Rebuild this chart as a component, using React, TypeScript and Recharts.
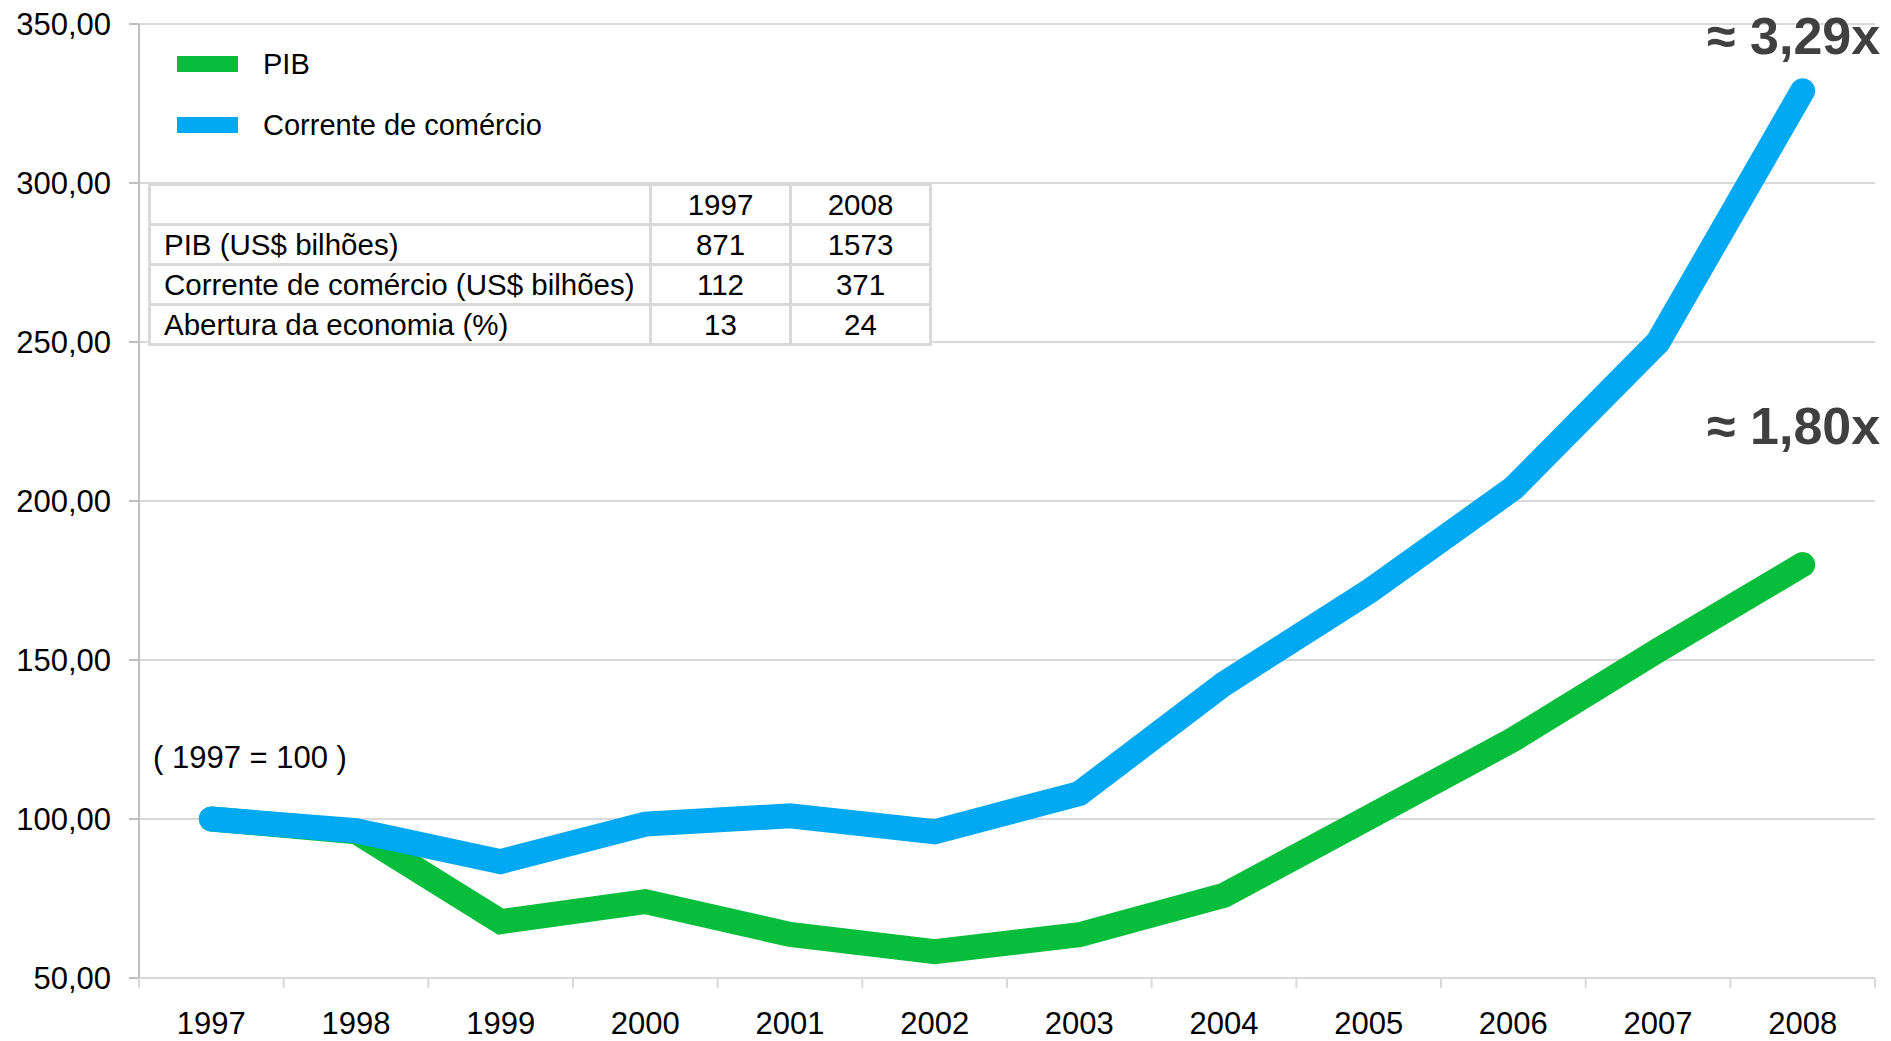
import { LineChart, Line, XAxis, YAxis, CartesianGrid } from 'recharts';

const years = ['1997', '1998', '1999', '2000', '2001', '2002', '2003', '2004', '2005', '2006', '2007', '2008'];
const pib = [100, 96, 67.7, 74, 63.7, 58.3, 63.6, 76, 100.5, 125, 153, 180];
const corrente = [100, 96.3, 86.6, 98.4, 101, 96, 108, 142.5, 171.5, 204, 250, 329];
const yTicks = [50, 100, 150, 200, 250, 300, 350];
const growthLabels = { pib: '≈ 1,80x', corrente: '≈ 3,29x' };

const tableHead = ['', '1997', '2008'];
const tableRows = [
  ['PIB (US$ bilhões)', '871', '1573'],
  ['Corrente de comércio (US$ bilhões)', '112', '371'],
  ['Abertura da economia (%)', '13', '24'],
];

const data = years.map((y, i) => ({ idx: i, year: y, pib: pib[i], corrente: corrente[i] }));
// category boundaries for the little tick marks, labels at the centres
const xTicks: number[] = [];
for (let i = 0; i <= years.length * 2; i++) xTicks.push(i / 2 - 0.5);

const FONT = '"Liberation Sans", Arial, sans-serif';
const GREEN = '#06BE3C';
const BLUE = '#00A9F1';
const GRID = '#d9d9d9';

const XTick = (props: any) => {
  const { x, y, payload } = props;
  const v = payload.value;
  if (Number.isInteger(v)) {
    return (
      <text x={x} y={y + 56} textAnchor="middle" fontSize={31} fontFamily={FONT} fill="#000">
        {years[v]}
      </text>
    );
  }
  return <line x1={x} x2={x} y1={y} y2={y + 10} stroke={GRID} strokeWidth={2} />;
};

const endLabel = (text: string, dy: number) => (props: any) => {
  const { x, y, index } = props;
  if (index !== years.length - 1) return null;
  return (
    <text x={x - 9} y={y - dy} textAnchor="middle" fontSize={52} fontWeight="bold" fontFamily={FONT} fill="#404040">
      {text}
    </text>
  );
};

const cell = (w: number, align: 'left' | 'center'): any => ({
  width: w,
  height: 37,
  border: `3px solid ${GRID}`,
  padding: align === 'left' ? '0 0 0 13px' : 0,
  textAlign: align,
  verticalAlign: 'middle',
  whiteSpace: 'nowrap',
});

const App = () => {
  return (
    <div style={{ position: 'absolute', left: 0, top: 0, width: 1891, height: 1041, background: '#fff' }}>
      <LineChart width={1891} height={1041} data={data} margin={{ top: 24, right: 16, bottom: 3, left: 0 }}>
        <CartesianGrid vertical={false} stroke={GRID} strokeWidth={2} />
        <XAxis
          dataKey="idx"
          type="number"
          domain={[-0.5, years.length - 0.5]}
          ticks={xTicks}
          interval={0}
          tickLine={false}
          tickSize={0}
          tickMargin={0}
          tick={<XTick />}
          axisLine={{ stroke: GRID, strokeWidth: 2 }}
          height={60}
        />
        <YAxis
          domain={[50, 350]}
          ticks={yTicks}
          width={139}
          tickSize={10}
          tickMargin={18}
          tickFormatter={(v: number) => v.toFixed(2).replace('.', ',')}
          tick={{ fontSize: 31, fontFamily: FONT, fill: '#000' }}
          tickLine={{ stroke: '#bfbfbf', strokeWidth: 2 }}
          axisLine={{ stroke: '#bfbfbf', strokeWidth: 2 }}
        />
        <Line
          dataKey="pib"
          name="PIB"
          stroke={GREEN}
          strokeWidth={25}
          strokeLinecap="round"
          strokeLinejoin="miter"
          dot={false}
          activeDot={false}
          isAnimationActive={false}
          label={endLabel(growthLabels.pib, 121)}
        />
        <Line
          dataKey="corrente"
          name="Corrente de comércio"
          stroke={BLUE}
          strokeWidth={25}
          strokeLinecap="round"
          strokeLinejoin="miter"
          dot={false}
          activeDot={false}
          isAnimationActive={false}
          label={endLabel(growthLabels.corrente, 37)}
        />
      </LineChart>

      {/* legend */}
      <div style={{ position: 'absolute', left: 177, top: 49, fontFamily: FONT, fontSize: 29, color: '#000' }}>
        <div style={{ display: 'flex', alignItems: 'center', height: 30 }}>
          <span style={{ width: 61, height: 16, background: GREEN, display: 'inline-block', marginRight: 25 }} />
          PIB
        </div>
        <div style={{ display: 'flex', alignItems: 'center', height: 30, marginTop: 31 }}>
          <span style={{ width: 61, height: 16, background: BLUE, display: 'inline-block', marginRight: 25 }} />
          Corrente de comércio
        </div>
      </div>

      <table
        style={{
          position: 'absolute',
          left: 148,
          top: 183,
          borderCollapse: 'collapse',
          background: '#fff',
          fontFamily: FONT,
          fontSize: 29.5,
          color: '#000',
        }}
      >
        <tbody>
          <tr>
            {tableHead.map((h, i) => (
              <td key={i} style={cell(i === 0 ? 485 : 137, i === 0 ? 'left' : 'center')}>{h}</td>
            ))}
          </tr>
          {tableRows.map((r, ri) => (
            <tr key={ri}>
              {r.map((c, i) => (
                <td key={i} style={cell(i === 0 ? 485 : 137, i === 0 ? 'left' : 'center')}>{c}</td>
              ))}
            </tr>
          ))}
        </tbody>
      </table>

      <div style={{ position: 'absolute', left: 153, top: 740, fontFamily: FONT, fontSize: 31, color: '#000' }}>
        ( 1997 = 100 )
      </div>
    </div>
  );
};

export default App;
